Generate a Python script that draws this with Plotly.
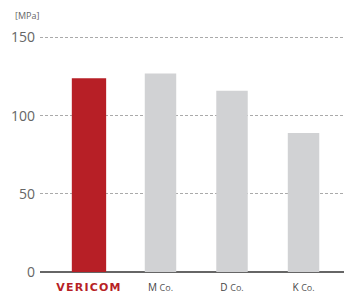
import plotly.graph_objects as go

categories = ["VERICOM", "M Co.", "D Co.", "K Co."]
tick_labels = [
    "<b><span style='color:#B71F26;font-family:DejaVu Sans;font-size:11px;letter-spacing:1.2px'>VERICOM</span></b>",
    "<span style='color:#444;font-size:10px'>M</span> <span style='font-size:9px;color:#555'>Co.</span>",
    "<span style='color:#444;font-size:10px'>D</span> <span style='font-size:9px;color:#555'>Co.</span>",
    "<span style='color:#444;font-size:10px'>K</span> <span style='font-size:9px;color:#555'>Co.</span>",
]
values = [124, 127, 116, 89]
bar_colors = ["#B71F26", "#D1D2D4", "#D1D2D4", "#D1D2D4"]
bar_widths = [0.48, 0.44, 0.44, 0.44]
x_pos = [0, 1, 2, 3]

fig = go.Figure(go.Bar(
    x=x_pos, y=values, width=bar_widths,
    marker=dict(color=bar_colors, line=dict(width=0)),
    hoverinfo="skip",
))

fig.update_layout(
    width=344, height=295,
    margin=dict(l=40, r=0, t=36, b=23),
    paper_bgcolor="white", plot_bgcolor="white",
    showlegend=False,
    font=dict(family="Open Sans, sans-serif", color="#666"),
    xaxis=dict(
        range=[-0.685, 3.566], tickvals=x_pos, ticktext=tick_labels,
        showgrid=False, zeroline=False, showline=False, ticks="",
        tickfont=dict(size=10), fixedrange=True, automargin=False,
        ticklabelstandoff=8,
    ),
    yaxis=dict(
        range=[0, 151], tickvals=[0, 50, 100, 150],
        showgrid=True, gridcolor="#AAAAAA", gridwidth=1, griddash="3px,2px",
        zeroline=True, zerolinecolor="#666666", zerolinewidth=1.5,
        showline=False, ticks="", tickfont=dict(size=14, color="#666"),
        ticklabelstandoff=4, automargin=False, fixedrange=True,
    ),
    annotations=[dict(
        text="[MPa]", xref="paper", yref="paper", x=-0.089, y=1.085,
        xanchor="left", yanchor="middle", showarrow=False,
        font=dict(size=9, color="#666"),
    )],
)

fig.write_html(
    "out.html",
    config={"displayModeBar": False, "staticPlot": True},
    post_script="document.body.style.margin='0';document.body.style.overflow='hidden';",
)
